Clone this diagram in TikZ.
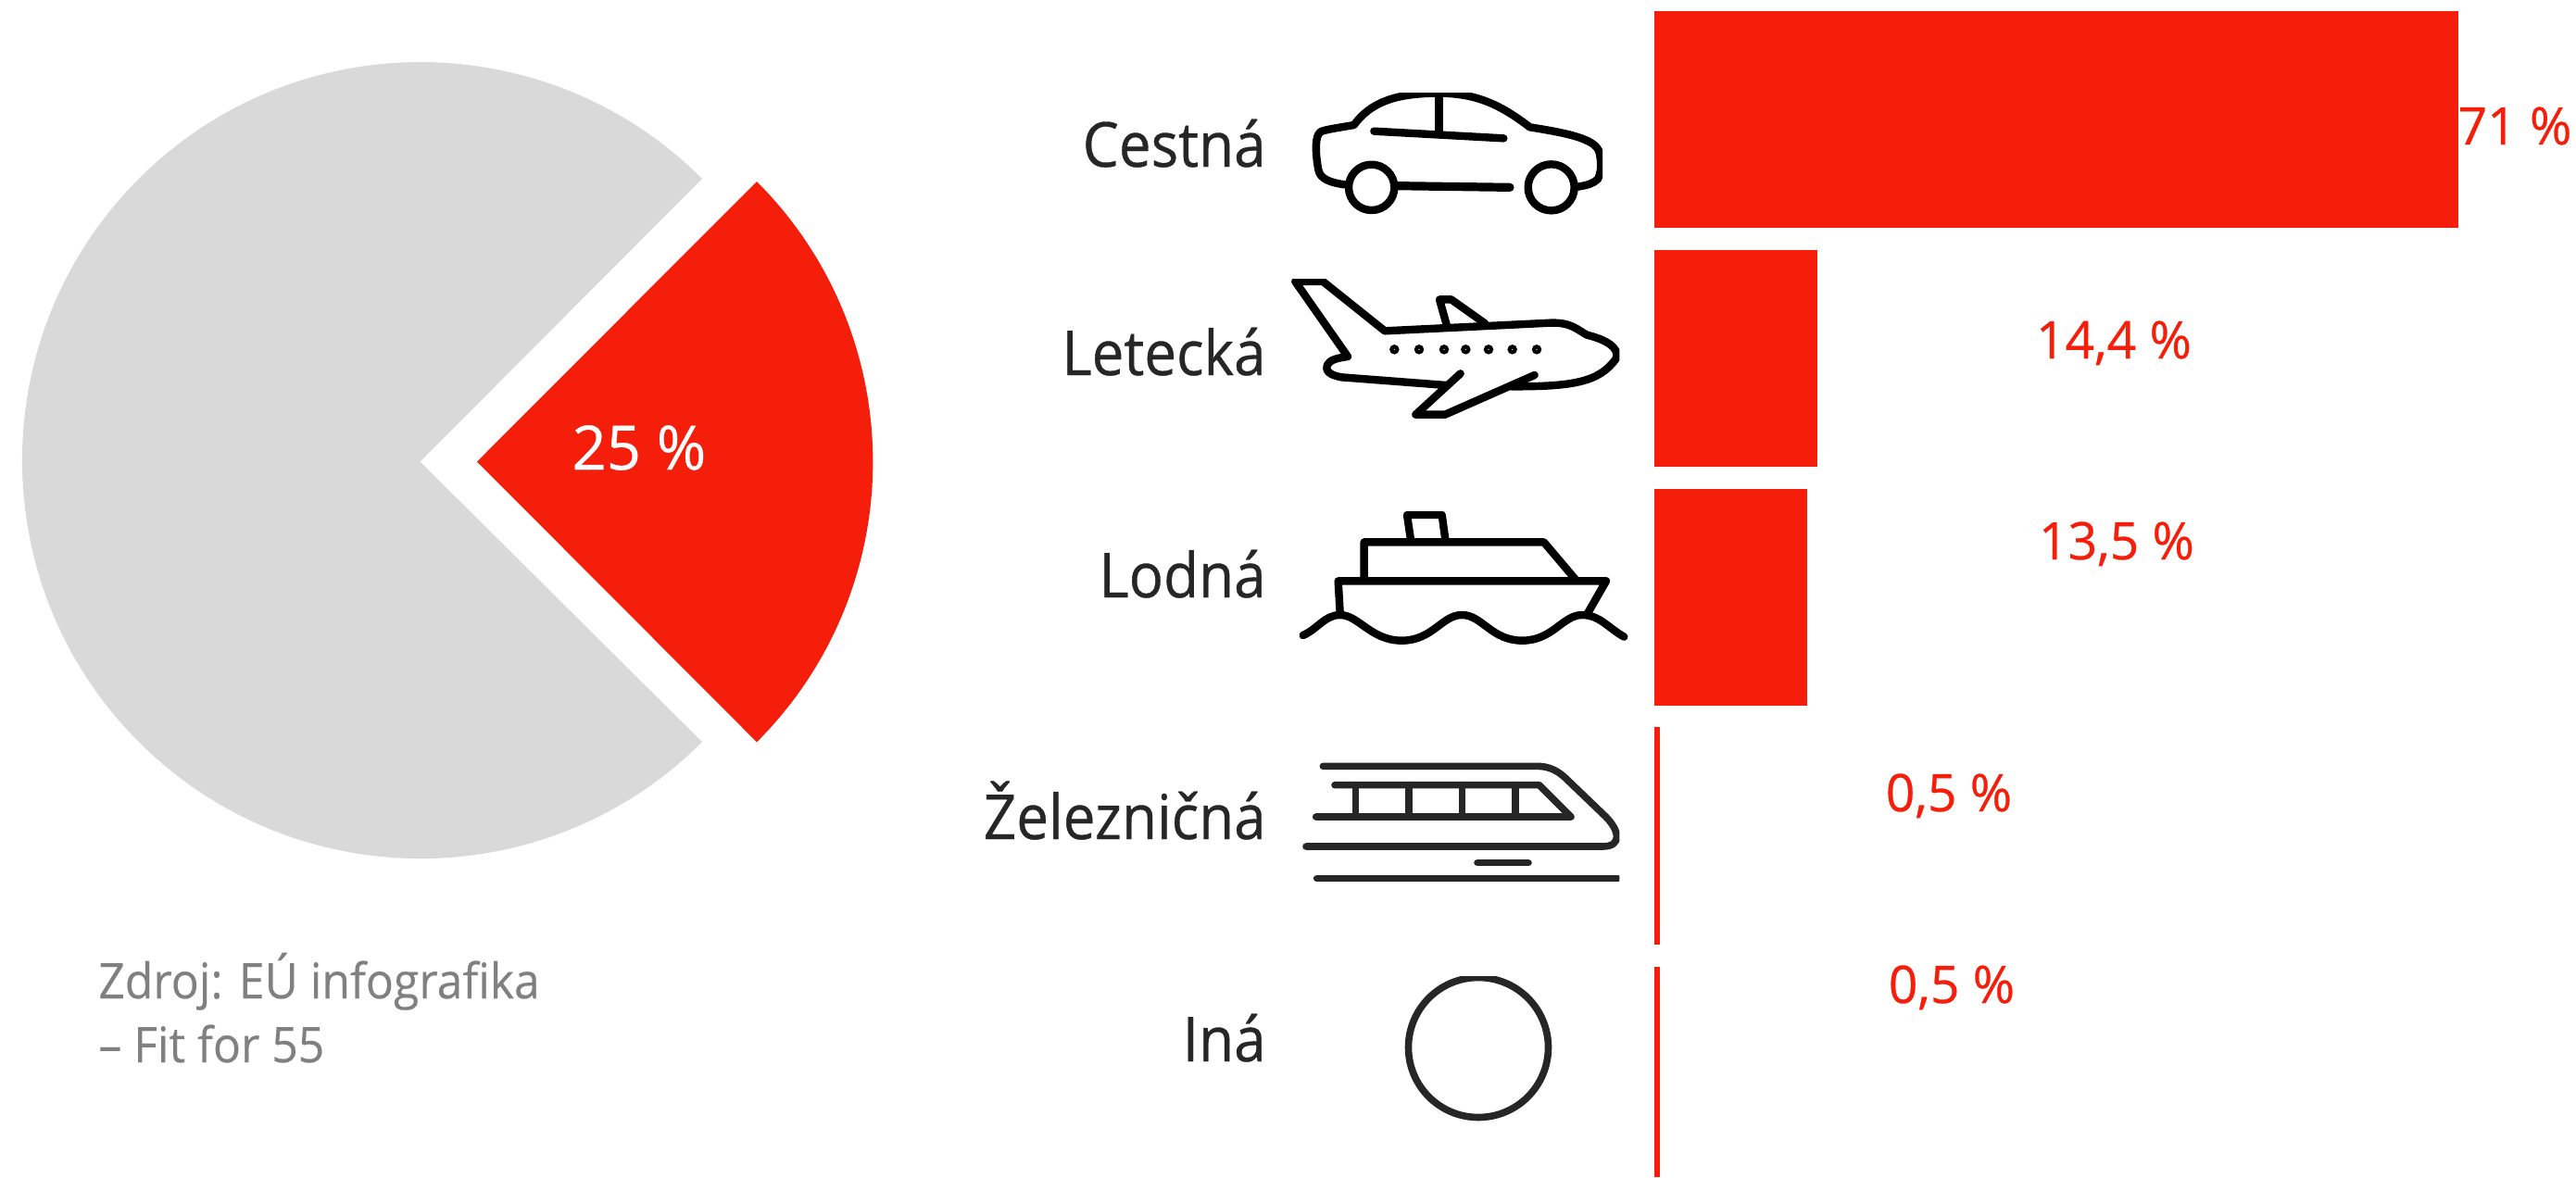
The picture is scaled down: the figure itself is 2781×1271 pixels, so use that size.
\documentclass[tikz,border=0pt]{standalone}
\usepackage{fontspec}
\setmainfont{Open Sans}
\newfontfamily\labfont[FakeStretch=0.925,FakeBold=0.5]{Open Sans}
\newfontfamily\valfont[FakeStretch=0.985,FakeBold=0.5]{Open Sans}
\newfontfamily\srcfont[FakeStretch=0.94,FakeBold=0.3]{Open Sans}
\definecolor{barred}{HTML}{F41E0B}
\definecolor{piegray}{HTML}{D9D9D9}
\definecolor{ink}{HTML}{262626}
\definecolor{srcgray}{HTML}{808080}
\newcommand{\fs}[1]{\fontsize{#1}{#1}\selectfont}
\tikzset{
  bar/.style={fill=barred,draw=none},
  lab/.style={anchor=base east,inner sep=0,text=ink,font=\labfont\fs{33.5}},
  val/.style={anchor=base,inner sep=0,text=barred,font=\valfont\fs{28}},
  src/.style={anchor=base west,inner sep=0,text=srcgray,font=\srcfont\fs{26.5}},
  ico/.style={line width=4.2pt,line cap=round,line join=round,draw=black},
  ict/.style={line width=3.8pt,line cap=round,line join=round,draw=ink},
}
\begin{document}
\begin{tikzpicture}[x=0.5pt,y=-0.5pt]
\useasboundingbox (0,0) rectangle (2781,1271);
% pie
\fill[piegray] (453.5,498.5) -- (758,193) arc[start angle=45,end angle=315,radius=430*0.5pt] -- cycle;
\fill[barred] (515,498.5) -- (817,196) arc[start angle=45,end angle=-45,radius=428*0.5pt] -- cycle;
\node[anchor=base,inner sep=0,text=white,font=\valfont\fs{33}] (pct) at (690,507) {25 \%};
\node[src] (src1) at (106,1078) {Zdroj: EÚ infografika};
\node[src] (src2) at (106,1147) {– Fit for 55};
% bars
\fill[bar] (1786,12) rectangle (2654,246);
\fill[bar] (1786,270) rectangle (1962,504);
\fill[bar] (1786,528) rectangle (1951,762);
\fill[bar] (1786,785) rectangle (1792,1020);
\fill[bar] (1786,1044) rectangle (1792,1271);
% labels
\node[lab] (l1) at (1367,180) {Cestná};
\node[lab] (l2) at (1367,405) {Letecká};
\node[lab] (l3) at (1367,645) {Lodná};
\node[lab] (l4) at (1367,906) {Železničná};
\node[lab] (l5) at (1367,1146) {Iná};
% values
\node[val] (v1) at (2715,156) {71 \%};
\node[val] (v2) at (2282,387) {14,4 \%};
\node[val] (v3) at (2285,604) {13,5 \%};
\node[val] (v4) at (2104,876) {0,5 \%};
\node[val] (v5) at (2107,1083) {0,5 \%};
% car
\begin{scope}[shift={(1380,80)},x=0.16667pt,y=-0.16667pt]
\clip (0,60) rectangle (1050,500);
\draw[ico] (215,358) .. controls (170,352) and (135,340) .. (130,310) .. controls (122,270) and (118,215) .. (130,195) .. controls (135,183) and (145,182) .. (245,165) .. controls (300,90) and (380,65) .. (500,62) .. controls (640,58) and (720,100) .. (815,172) .. controls (940,192) and (1030,210) .. (1040,255) .. controls (1050,300) and (1042,325) .. (1035,340) .. controls (1020,355) and (1000,360) .. (970,365);
\draw[ico] (520,62) -- (520,195);
\draw[ico] (310,185) -- (730,208);
\draw[ico,line width=4.6pt] (385,362) -- (750,367);
\draw[ico] (302,367) circle[radius=74*0.16667pt];
\draw[ico] (884,367) circle[radius=75*0.16667pt];
\end{scope}
% plane
\begin{scope}[shift={(1380,80)},x=0.16667pt,y=-0.16667pt]
\clip (0,663) rectangle (1105,1200);
\draw[ico] (545,1008) -- (205,982) .. controls (165,975) and (150,960) .. (160,940) .. controls (170,925) and (190,920) .. (225,915) -- (55,672) -- (145,672) -- (345,832) -- (880,806) .. controls (950,803) and (970,830) .. (1000,845) .. controls (1060,860) and (1105,885) .. (1095,920) .. controls (1040,1000) and (950,1012) .. (755,1012);
\draw[ico] (830,975) -- (540,1103) -- (445,1103) -- (590,970);
\draw[ico] (545,812) -- (522,730) -- (560,730) -- (670,808);
\foreach \px in {376,456,537,607,681,758,837}
  \draw[line width=2.1pt,draw=black] (\px,892) circle[radius=9*0.16667pt];
\end{scope}
% boat
\begin{scope}[shift={(1380,520)},x=0.16667pt,y=-0.16667pt]
\clip (0,97) rectangle (1200,560);
\draw[ico] (430,195) -- (417,108) -- (530,108) -- (542,195);
\draw[ico] (278,320) -- (278,196) -- (860,196) -- (965,320);
\draw[ico] (200,425) -- (194,322) -- (1062,322) -- (1000,430);
\draw[ico] (80,498) .. controls (125,480) and (150,432) .. (200,432) .. controls (260,432) and (300,515) .. (400,515) .. controls (500,515) and (530,432) .. (595,432) .. controls (660,432) and (690,515) .. (790,515) .. controls (890,515) and (920,432) .. (985,432) .. controls (1040,432) and (1070,475) .. (1120,503);
\end{scope}
% train
\begin{scope}[shift={(1380,520)},x=0.16667pt,y=-0.16667pt]
\clip (0,880) rectangle (1105,1320);
\draw[ict] (145,922) -- (840,922) .. controls (880,922) and (910,940) .. (935,965) -- (1060,1085) .. controls (1105,1130) and (1115,1182) .. (1050,1182) -- (90,1182);
\draw[ict] (183,983) -- (845,983) -- (948,1086) -- (122,1086);
\foreach \mx in {250,423,595,768} \draw[ict] (\mx,983) -- (\mx,1086);
\draw[ict] (645,1235) -- (810,1235);
\draw[ict] (125,1286) -- (1100,1286);
\end{scope}
% other
\begin{scope}
\clip (1480,1054) rectangle (1700,1271);
\draw[ict] (1596,1131) circle[radius=75.5*0.5pt];
\end{scope}
\end{tikzpicture}
\end{document}
